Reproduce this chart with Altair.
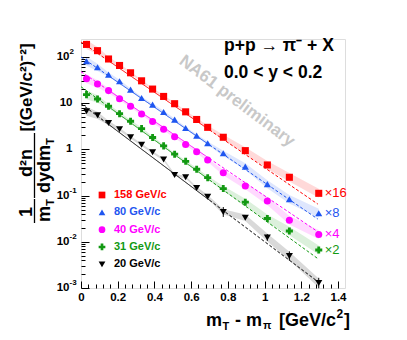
import altair as alt
import pandas as pd
import numpy as np

FONT = "Liberation Sans"

# ---------------- data ----------------
series = ["158 GeV/c", "80 GeV/c", "40 GeV/c", "31 GeV/c", "20 GeV/c"]
scale_labels = ["×16", "×8", "×4", "×2", ""]
colors = ["#ff0000", "#1f56f0", "#ff00ff", "#129912", "#000000"]
shapes = ["square", "triangle-up", "circle", "cross", "triangle-down"]

x_vals = [0.03, 0.09, 0.15, 0.21, 0.27, 0.33, 0.39, 0.45, 0.51, 0.57, 0.63, 0.69,
          0.775, 0.895, 1.015, 1.135, 1.295]

# plotted values (already multiplied by the scale factors)
y_158 = [187, 137, 90.5, 65.5, 45.5, 30.5, 20.2, 14.0, 9.75, 6.5, 4.44, 3.0,
         1.83, 0.94, 0.46, 0.249, 0.112]
y_80 = [80.7, 59.8, 41.4, 29.8, 19.6, 12.97, 9.29, 6.46, 4.40, 2.91, 1.98, 1.36,
        0.824, 0.423, 0.177, 0.0832, 0.0414]
y_40 = [33.9, 26.0, 18.7, 12.5, 8.57, 5.84, 4.02, 2.72, 1.88, 1.28, 0.892, 0.590,
        0.313, 0.161, 0.0764, 0.0292, 0.0144]
y_31 = [15.3, 12.3, 8.57, 5.93, 4.06, 2.81, 1.81, 1.19, 0.788, 0.552, 0.371, 0.244,
        0.142, 0.0720, 0.0319, 0.0171, 0.00665]
y_20 = [6.68, 5.47, 3.73, 2.73, 1.83, 1.26, 0.865, 0.604, 0.279, 0.249, 0.146, 0.0942,
        0.0442, 0.0331, 0.0124, 0.00493, 0.00128]
y_all = [y_158, y_80, y_40, y_31, y_20]

# relative systematic band half-width
sys_rel = [0.25, 0.2, 0.12, 0.08, 0.06, 0.06, 0.06, 0.06, 0.06, 0.06, 0.07, 0.09,
           0.14, 0.18, 0.22, 0.24, 0.25]
# relative statistical errors of the 20 GeV/c points
stat_20 = [0, 0, 0, 0, 0, 0, 0, 0.06, 0.05, 0.06, 0.05, 0.05, 0.28, 0.1, 0.18, 0.26, 0.3]

# exponential fits: A * exp(-x / T)
fit_A = [211, 100, 48.1, 22.7, 9.75]
fit_T = [0.1597, 0.1597, 0.1617, 0.1506, 0.1455]
fit_range = [0.15, 0.70]
line_range = [0.0, 1.29]

x_major = [0, 0.2, 0.4, 0.6, 0.8, 1.0, 1.2, 1.4]
x_minor = [round(0.04 * i, 2) for i in range(36) if i % 5]
y_major = [1e-3, 1e-2, 1e-1, 1.0, 10.0, 100.0]
y_minor = [float(f"{k}e{d}") for d in range(-3, 3) for k in range(2, 10) if float(f"{k}e{d}") < 245]
y_label_base = ["10", "10", "10", "1", "10", "10"]
y_label_sup = ["-3", "-2", "-1", "", "", "2"]

# ---------------- tables ----------------
rows = []
for s, ys in zip(series, y_all):
    for i, (x, y) in enumerate(zip(x_vals, ys)):
        rows.append(dict(series=s, x=x, y=y,
                         hi=y * (1 + sys_rel[i]), lo=y / (1 + sys_rel[i])))
pts = pd.DataFrame(rows)

err_rows = [dict(series=series[4], x=x, hi=y * (1 + e), lo=y / (1 + e))
            for x, y, e in zip(x_vals, y_20, stat_20) if e > 0]
errs = pd.DataFrame(err_rows)

fit_rows = []
segs = [("pre", "dashed", line_range[0], fit_range[0]),
        ("fit", "solid", fit_range[0], fit_range[1]),
        ("post", "dashed", fit_range[1], line_range[1])]
for s, A, T in zip(series, fit_A, fit_T):
    for name, style, a, b in segs:
        for x in (a, b):
            fit_rows.append(dict(series=s, seg=s + name, style=style, x=x,
                                 y=A * np.exp(-x / T)))
fits = pd.DataFrame(fit_rows)

mult = pd.DataFrame([dict(series=s, x=x_vals[-1], y=ys[-1], t=lab)
                     for s, ys, lab in zip(series, y_all, scale_labels) if lab])

leg = pd.DataFrame(dict(series=series))
ylab = pd.DataFrame(dict(v=y_major, base=y_label_base, sup=y_label_sup))

# ---------------- scales / axes ----------------
xs = alt.Scale(domain=[0, 1.438], nice=False, zero=False)
ys_ = alt.Scale(type="log", domain=[0.001, 245], nice=False)
cs = alt.Scale(domain=series, range=colors)
ss = alt.Scale(domain=series, range=shapes)

W, H = 264, 249

ax_x_lab = alt.Axis(orient="bottom", values=x_major, format="~g", ticks=False, domain=False,
                    grid=False, title=None, labelFont=FONT, labelFontSize=11.5,
                    labelFontWeight="bold", labelColor="black", labelPadding=3, labelFlush=False)


def tick_axis(orient, offset, values, size):
    return alt.Axis(orient=orient, offset=offset, values=values, tickSize=size, labels=False,
                    domain=False, grid=False, title=None, tickColor="black", tickWidth=1)


color = alt.Color("series:N", scale=cs, legend=None)
shape = alt.Shape("series:N", scale=ss, legend=None)

band = alt.Chart(pts).mark_area(opacity=0.15, clip=True).encode(
    x=alt.X("x:Q", scale=xs, axis=tick_axis("top", -H, x_major, 7)),
    y=alt.Y("hi:Q", scale=ys_, axis=tick_axis("right", -W, y_major, 8)),
    y2="lo:Q",
    color=color,
    detail="series:N",
)

lines = alt.Chart(fits).mark_line(strokeWidth=1, clip=True).encode(
    x=alt.X("x:Q", scale=xs, axis=tick_axis("top", -H, x_minor, 4)),
    y=alt.Y("y:Q", scale=ys_, axis=tick_axis("right", -W, y_minor, 4)),
    color=color,
    detail="seg:N",
    strokeDash=alt.StrokeDash("style:N", scale=alt.Scale(domain=["solid", "dashed"],
                                                         range=[[1, 0], [3, 2]]), legend=None),
)

ebars = alt.Chart(errs).mark_rule(strokeWidth=1, color="black").encode(
    x=alt.X("x:Q", scale=xs, axis=None),
    y=alt.Y("hi:Q", scale=ys_, axis=None),
    y2="lo:Q",
)

points = alt.Chart(pts).mark_point(filled=True, opacity=1, size=50).encode(
    x=alt.X("x:Q", scale=xs, axis=ax_x_lab),
    y=alt.Y("y:Q", scale=ys_, axis=None),
    color=color,
    shape=shape,
)

mult_txt = alt.Chart(mult).mark_text(align="left", baseline="middle", dx=6, font=FONT,
                                     fontSize=13).encode(
    x=alt.X("x:Q", scale=xs, axis=None),
    y=alt.Y("y:Q", scale=ys_, axis=None),
    text="t:N",
    color=color,
)

# y tick labels with real superscripts
ylab_base = alt.Chart(ylab).mark_text(align="right", baseline="middle", font=FONT, fontSize=11.5,
                                      fontWeight="bold", color="black").encode(
    x=alt.value(-8.5),
    y=alt.Y("v:Q", scale=ys_, axis=None),
    text="base:N",
)
ylab_base_sup = ylab_base.transform_filter("datum.sup != ''").encode(x=alt.value(-11.5))
ylab_base_plain = ylab_base.transform_filter("datum.sup == ''")
ylab_sup = alt.Chart(ylab).transform_filter("datum.sup != ''").mark_text(
    align="left", baseline="middle", dy=-5, font=FONT, fontSize=8, fontWeight="bold",
    color="black").encode(
    x=alt.value(-11.5),
    y=alt.Y("v:Q", scale=ys_, axis=None),
    text="sup:N",
)

main = alt.layer(band, lines, ebars, points, mult_txt, ylab_base_sup, ylab_base_plain,
                 ylab_sup).resolve_axis(x="independent", y="independent")

ly = alt.Y("series:N", scale=alt.Scale(type="point", domain=series, range=[156, 225.3], padding=0),
           axis=None)
leg_pts = alt.Chart(leg).mark_point(filled=True, opacity=1, size=45).encode(
    x=alt.value(21), y=ly, color=color, shape=shape)
leg_txt = alt.Chart(leg).mark_text(align="left", baseline="middle", font=FONT, fontSize=11,
                                   fontWeight="bold").encode(
    x=alt.value(33), y=ly, text="series:N", color=color)
legend = alt.layer(leg_pts, leg_txt)

one = pd.DataFrame({"a": [0]})


def label(text, x, y, size, angle=0, align="left", baseline="alphabetic",
          color="black", weight="bold"):
    return alt.Chart(one).mark_text(text=text, align=align, baseline=baseline, angle=angle,
                                    fontSize=size, fontWeight=weight, font=FONT,
                                    color=color).encode(x=alt.value(x), y=alt.value(y))


def bar(x, y1, y2):
    return alt.Chart(one).mark_rule(color="black", strokeWidth=1.3).encode(
        x=alt.value(x), y=alt.value(y1), y2=alt.value(y2))


texts = [
    # watermark
    label("NA61 preliminary", 156, 62, 17, angle=37, align="center", baseline="middle",
          color="#c8c8c8"),
    # reaction and rapidity
    label("p+p → π⁻ + X", 143, 12, 17.5),
    label("0.0 < y < 0.2", 143, 38.5, 17.5),
    # x title
    label("m", 125, 287, 18),
    label("T", 141.5, 290.5, 11),
    label("-", 157, 287, 18, align="center"),
    label("m", 165, 287, 18),
    label("π", 182, 290, 11),
    label("[GeV/c", 255, 287, 18, align="right"),
    label("2", 255.5, 279, 12),
    label("]", 263, 287, 18),
    # y title (rotated)
    label("1", -49, 173, 18, angle=270, align="center"),
    bar(-46.5, 160, 184),
    label("m", -31, 175, 18, angle=270, align="center"),
    label("T", -27.5, 163.5, 11, angle=270, align="center"),
    label("d²n", -49, 124, 18, angle=270, align="center"),
    bar(-46.5, 94, 159),
    label("dydm", -31, 130, 18, angle=270, align="center"),
    label("T", -27.5, 102.5, 11, angle=270, align="center"),
    label("[(GeV/c²)⁻²]", -49, 48.5, 17, angle=270, align="center"),
]

chart = alt.layer(texts[0], main, legend, *texts[1:]).resolve_scale(y="independent").properties(
    width=W, height=H,
    padding={"left": 73, "top": 31, "right": 50, "bottom": 44},
    autosize=alt.AutoSizeParams(type="none"),
).configure_view(stroke="black", strokeWidth=1).configure(background="white")

chart.save("out.html", embed_options={"renderer": "svg", "actions": False})
